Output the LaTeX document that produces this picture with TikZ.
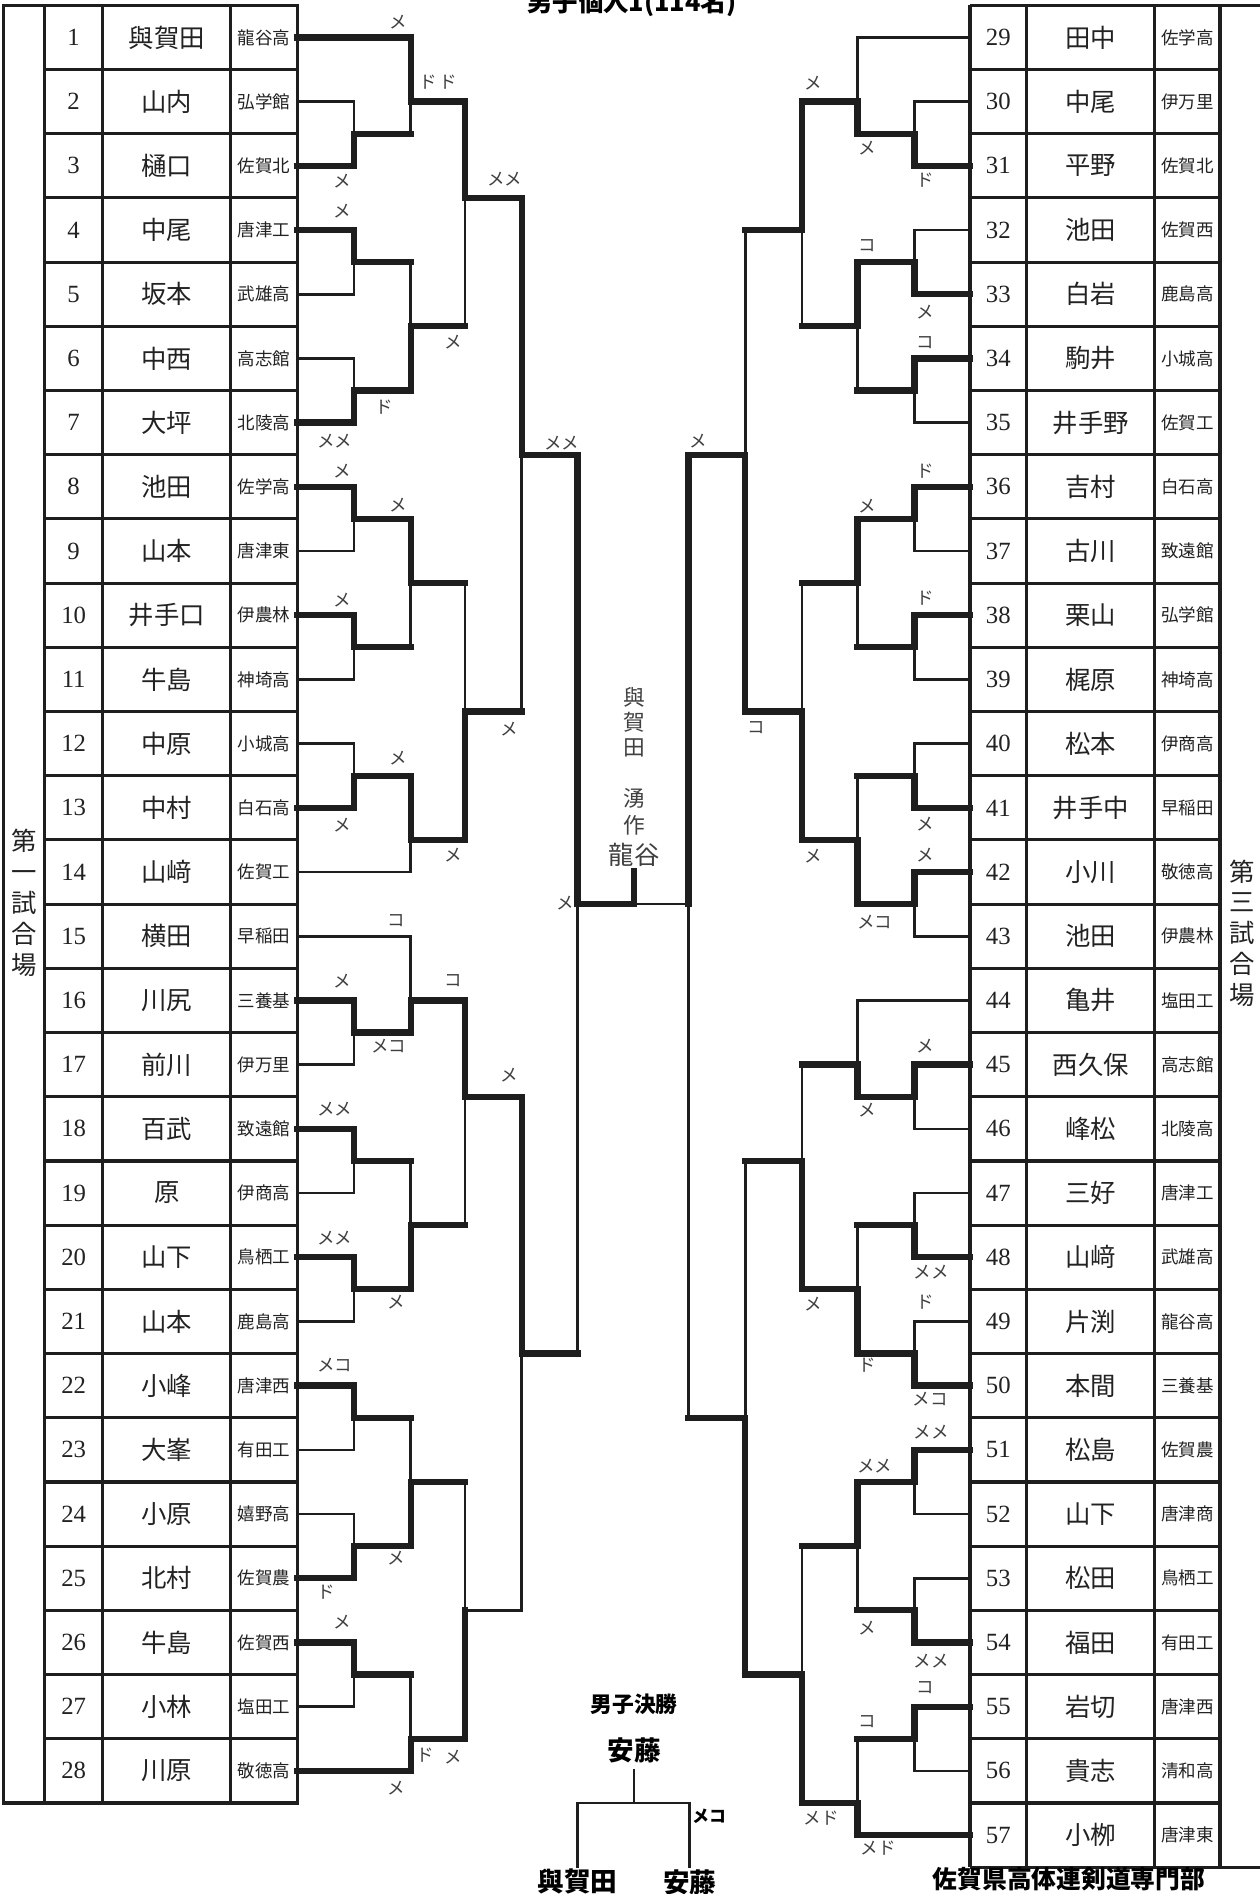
\documentclass[tikz,border=0pt]{standalone}
\usepackage{fontspec}
\newfontfamily\jp{Noto Sans CJK JP}
\newfontfamily\numf{Liberation Serif}
\definecolor{lc}{HTML}{1E1E1E}
\definecolor{tc}{HTML}{222222}
\definecolor{gc}{HTML}{404040}
% match with winner on top input / bottom input
% #1 X of vertical, #2 start x top, #3 y top, #4 style top horiz,
% #5 start x bottom, #6 y bottom, #7 style bottom horiz, #8 y out
\newcommand\Mt[8]{%
  \draw[#4] ({#2},{#3}) -- ({#1},{#3});
  \draw[#7] ({#5},{#6}) -- ({#1},{#6});
  \draw[tn] ({#1},{#8}) -- ({#1},{#6});
  \draw[tk] ({#1},{#3}) -- ({#1},{#8});}
\newcommand\Mb[8]{%
  \draw[#4] ({#2},{#3}) -- ({#1},{#3});
  \draw[#7] ({#5},{#6}) -- ({#1},{#6});
  \draw[tn] ({#1},{#3}) -- ({#1},{#8});
  \draw[tk] ({#1},{#8}) -- ({#1},{#6});}
\newcount\lbcnt
\newcommand\lb[3]{\global\advance\lbcnt by 1
  \node[lab] (lab\the\lbcnt) at ({#1},{#2}) {#3};}
\begin{document}
\begin{tikzpicture}[x=1pt,y=-1pt,
 declare function={rc(\i)=4.4+(\i-0.5)*53.15; rb(\i)=4.4+\i*53.15;},
 tn/.style={line width=2.2pt,line cap=rect,draw=lc},
 tk/.style={line width=5.2pt,line cap=rect,draw=lc},
 tb/.style={line width=2.6pt,draw=lc},
 lab/.style={font=\jp\fontsize{14.5}{14.5}\selectfont,text=gc,inner sep=0pt},
 num/.style={font=\numf\fontsize{20.5}{20.5}\selectfont,text=tc,inner sep=0pt},
 nam/.style={font=\jp\fontsize{21}{21}\selectfont,text=tc,inner sep=0pt},
 sch/.style={font=\jp\fontsize{14.5}{14.5}\selectfont,text=tc,inner sep=0pt},
 vtx/.style={font=\jp\fontsize{21}{25.5}\selectfont,text=tc,align=center,inner sep=0pt},
 bld/.style={font=\jp\bfseries\fontsize{#1}{#1}\selectfont,text=black,inner sep=0pt},
]
\useasboundingbox (0,0) rectangle (1043,1568);
\fill[white] (0,0) rectangle (1043,1568);

% ---------------- left table
\draw[tb] (3,4.4) rectangle (246,{rb(28)});
\foreach \xx in {37,85,191} \draw[tb] (\xx,4.4) -- (\xx,{rb(28)});
\foreach \i in {1,...,27} \draw[tb] (37,{rb(\i)}) -- (246,{rb(\i)});
\foreach \nm/\sc [count=\i] in {與賀田/龍谷高,山内/弘学館,樋口/佐賀北,中尾/唐津工,坂本/武雄高,中西/高志館,大坪/北陵高,池田/佐学高,山本/唐津東,井手口/伊農林,牛島/神埼高,中原/小城高,中村/白石高,山﨑/佐賀工,横田/早稲田,川尻/三養基,前川/伊万里,百武/致遠館,原/伊商高,山下/鳥栖工,山本/鹿島高,小峰/唐津西,大峯/有田工,小原/嬉野高,北村/佐賀農,牛島/佐賀西,小林/塩田工,川原/敬徳高}{
  \node[num] (nl\i) at (61,{rc(\i)}) {\i};
  \node[nam] (ml\i) at (138,{rc(\i)}) {\nm};
  \node[sch] (sl\i) at (218.5,{rc(\i)}) {\sc};
}
\node[vtx] (venue1) at (20,747.5) {第\\一\\試\\合\\場};

% ---------------- right table
\draw[tb] (803,4.4) -- (1045,4.4);
\draw[tb] (803,{rb(29)}) -- (1045,{rb(29)});
\foreach \xx in {803,850,956,1010} \draw[tb] (\xx,4.4) -- (\xx,{rb(29)});
\foreach \i in {1,...,28} \draw[tb] (803,{rb(\i)}) -- (1010,{rb(\i)});
\foreach \nm/\sc [count=\i] in {田中/佐学高,中尾/伊万里,平野/佐賀北,池田/佐賀西,白岩/鹿島高,駒井/小城高,井手野/佐賀工,吉村/白石高,古川/致遠館,栗山/弘学館,梶原/神埼高,松本/伊商高,井手中/早稲田,小川/敬徳高,池田/伊農林,亀井/塩田工,西久保/高志館,峰松/北陵高,三好/唐津工,山﨑/武雄高,片渕/龍谷高,本間/三養基,松島/佐賀農,山下/唐津商,松田/鳥栖工,福田/有田工,岩切/唐津西,貴志/清和高,小栁/唐津東}{
  \pgfmathtruncatemacro\k{\i+28}
  \node[num] (nr\i) at (826.5,{rc(\i)}) {\k};
  \node[nam] (mr\i) at (903,{rc(\i)}) {\nm};
  \node[sch] (sr\i) at (983,{rc(\i)}) {\sc};
}
\node[vtx] (venue3) at (1028,772.5) {第\\三\\試\\合\\場};

% ---------------- left bracket
% block 1-7
\Mb{293}{246}{rc(2)}{tn}{246}{rc(3)}{tk}{rb(2)}
\Mt{340}{246}{rc(1)}{tk}{293}{rb(2)}{tk}{rc(2)}
\Mt{293}{246}{rc(4)}{tk}{246}{rc(5)}{tn}{rb(4)}
\Mb{293}{246}{rc(6)}{tn}{246}{rc(7)}{tk}{rb(6)}
\Mb{340}{293}{rb(4)}{tk}{293}{rb(6)}{tk}{rb(5)}
\Mt{385}{340}{rc(2)}{tk}{340}{rb(5)}{tk}{rb(3)}
% block 8-14
\Mt{293}{246}{rc(8)}{tk}{246}{rc(9)}{tn}{rb(8)}
\Mt{293}{246}{rc(10)}{tk}{246}{rc(11)}{tn}{rb(10)}
\Mt{340}{293}{rb(8)}{tk}{293}{rb(10)}{tk}{rb(9)}
\Mb{293}{246}{rc(12)}{tn}{246}{rc(13)}{tk}{rb(12)}
\Mt{340}{293}{rb(12)}{tk}{246}{rc(14)}{tn}{rb(13)}
\Mb{385}{340}{rb(9)}{tk}{340}{rb(13)}{tk}{rb(11)}
\Mt{432}{385}{rb(3)}{tk}{385}{rb(11)}{tk}{rb(7)}
% block 15-21
\Mt{293}{246}{rc(16)}{tk}{246}{rc(17)}{tn}{rb(16)}
\Mb{340}{246}{rc(15)}{tn}{293}{rb(16)}{tk}{rc(16)}
\Mt{293}{246}{rc(18)}{tk}{246}{rc(19)}{tn}{rb(18)}
\Mt{293}{246}{rc(20)}{tk}{246}{rc(21)}{tn}{rb(20)}
\Mb{340}{293}{rb(18)}{tk}{293}{rb(20)}{tk}{rb(19)}
\Mt{385}{340}{rc(16)}{tk}{340}{rb(19)}{tk}{rb(17)}
% block 22-28
\Mt{293}{246}{rc(22)}{tk}{246}{rc(23)}{tn}{rb(22)}
\Mb{293}{246}{rc(24)}{tn}{246}{rc(25)}{tk}{rb(24)}
\Mb{340}{293}{rb(22)}{tk}{293}{rb(24)}{tk}{rb(23)}
\Mt{293}{246}{rc(26)}{tk}{246}{rc(27)}{tn}{rb(26)}
\Mb{340}{293}{rb(26)}{tk}{246}{rc(28)}{tk}{rb(27)}
\Mb{385}{340}{rb(23)}{tk}{340}{rb(27)}{tk}{rb(25)}
\Mt{432}{385}{rb(17)}{tk}{385}{rb(25)}{tn}{rb(21)}
% semifinal left
\Mt{478}{432}{rb(7)}{tk}{432}{rb(21)}{tk}{rb(14)}

% ---------------- right bracket
% block 29-35
\Mb{757}{803}{rc(2)}{tn}{803}{rc(3)}{tk}{rb(2)}
\Mb{710}{803}{rc(1)}{tn}{757}{rb(2)}{tk}{rc(2)}
\Mb{757}{803}{rc(4)}{tn}{803}{rc(5)}{tk}{rb(4)}
\Mt{757}{803}{rc(6)}{tk}{803}{rc(7)}{tn}{rb(6)}
\Mt{710}{757}{rb(4)}{tk}{757}{rb(6)}{tk}{rb(5)}
\Mt{664}{710}{rc(2)}{tk}{710}{rb(5)}{tk}{rc(4)}
% block 36-43
\Mt{757}{803}{rc(8)}{tk}{803}{rc(9)}{tn}{rb(8)}
\Mt{757}{803}{rc(10)}{tk}{803}{rc(11)}{tn}{rb(10)}
\Mt{710}{757}{rb(8)}{tk}{757}{rb(10)}{tk}{rb(9)}
\Mb{757}{803}{rc(12)}{tn}{803}{rc(13)}{tk}{rb(12)}
\Mt{757}{803}{rc(14)}{tk}{803}{rc(15)}{tn}{rb(14)}
\Mb{710}{757}{rb(12)}{tk}{757}{rb(14)}{tk}{rb(13)}
\Mb{664}{710}{rb(9)}{tk}{710}{rb(13)}{tk}{rb(11)}
\Mb{617}{664}{rc(4)}{tk}{664}{rb(11)}{tk}{rb(7)}
% block 44-50
\Mt{757}{803}{rc(17)}{tk}{803}{rc(18)}{tn}{rb(17)}
\Mb{710}{803}{rc(16)}{tn}{757}{rb(17)}{tk}{rc(17)}
\Mb{757}{803}{rc(19)}{tn}{803}{rc(20)}{tk}{rb(19)}
\Mb{757}{803}{rc(21)}{tn}{803}{rc(22)}{tk}{rb(21)}
\Mb{710}{757}{rb(19)}{tk}{757}{rb(21)}{tk}{rb(20)}
\Mb{664}{710}{rc(17)}{tk}{710}{rb(20)}{tk}{rb(18)}
% block 51-57
\Mt{757}{803}{rc(23)}{tk}{803}{rc(24)}{tn}{rb(23)}
\Mb{757}{803}{rc(25)}{tn}{803}{rc(26)}{tk}{rb(25)}
\Mt{710}{757}{rb(23)}{tk}{757}{rb(25)}{tk}{rb(24)}
\Mt{757}{803}{rc(27)}{tk}{803}{rc(28)}{tn}{rb(27)}
\Mb{710}{757}{rb(27)}{tk}{803}{rc(29)}{tk}{rb(28)}
\Mb{664}{710}{rb(24)}{tk}{710}{rb(28)}{tk}{rb(26)}
\Mb{617}{664}{rb(18)}{tk}{664}{rb(26)}{tk}{rb(22)}
% semifinal right
\Mt{570}{617}{rb(7)}{tk}{617}{rb(22)}{tk}{rb(14)}

% ---------------- final
\coordinate (fm) at (525,{rb(14)});
\coordinate (ft) at (525,721);
\draw[tk] (478,{rb(14)}) -- (fm) -- (ft);
\draw[tn] (fm) -- (570,{rb(14)});
\node[font=\jp\fontsize{18}{21}\selectfont,text=gc,align=center,inner sep=0pt] (wn1) at (525,598) {與\\賀\\田};
\node[font=\jp\fontsize{18}{22.5}\selectfont,text=gc,align=center,inner sep=0pt] (wn2) at (525,672) {湧\\作};
\node[font=\jp\fontsize{21}{21}\selectfont,text=gc,inner sep=0pt] (wn3) at (525,708) {龍谷};

% ---------------- titles
\node[bld=21] (title) at (523,3) {男子個人1(114名)};
\node[bld=18] (fin) at (525,1411) {男子決勝};
\node[bld=22] (champ) at (525,1449) {安藤};
\coordinate (fs) at (525,1466);
\coordinate (fj) at (525,1492.6);
\coordinate (fl) at (478,1492.6);
\coordinate (fr) at (571,1492.6);
\coordinate (fld) at (478,1545);
\coordinate (frd) at (571,1545);
\draw[tn] (fs) -- (fj);
\draw[tn] (fld) -- (fl) -- (fr) -- (frd);
\node[bld=14] (finsc) at (587,1504) {メコ};
\node[bld=22] (fa) at (478,1558) {與賀田};
\node[bld=22] (fb) at (571,1558) {安藤};
\node[bld=20.5] (org) at (885,1556) {佐賀県高体連剣道専門部};

% ---------------- score labels, left
\lb{330}{18}{メ}
\lb{363}{68}{ド\,ド}
\lb{283}{150}{メ}
\lb{283}{175}{メ}
\lb{418}{148}{メメ}
\lb{375}{283}{メ}
\lb{318}{337}{ド}
\lb{277}{365}{メメ}
\lb{465}{367}{メメ}
\lb{283}{390}{メ}
\lb{330}{418}{メ}
\lb{283}{497}{メ}
\lb{422}{604}{メ}
\lb{330}{628}{メ}
\lb{283}{683}{メ}
\lb{375}{708}{メ}
\lb{468}{748}{メ}
\lb{328}{762}{コ}
\lb{283}{812}{メ}
\lb{375}{812}{コ}
\lb{322}{866}{メコ}
\lb{422}{890}{メ}
\lb{277}{918}{メメ}
\lb{277}{1025}{メメ}
\lb{328}{1078}{メ}
\lb{277}{1130}{メコ}
\lb{328}{1290}{メ}
\lb{270}{1318}{ド}
\lb{283}{1343}{メ}
\lb{352}{1453}{ド}
\lb{375}{1455}{メ}
\lb{328}{1480}{メ}
% ---------------- score labels, right
\lb{673}{69}{メ}
\lb{718}{123}{メ}
\lb{766}{149}{ド}
\lb{718}{203}{コ}
\lb{766}{258}{メ}
\lb{766}{284}{コ}
\lb{578}{365}{メ}
\lb{766}{390}{ド}
\lb{718}{419}{メ}
\lb{766}{495}{ド}
\lb{626}{602}{コ}
\lb{766}{682}{メ}
\lb{766}{708}{メ}
\lb{673}{709}{メ}
\lb{724}{763}{メコ}
\lb{766}{866}{メ}
\lb{718}{919}{メ}
\lb{771}{1053}{メメ}
\lb{766}{1078}{ド}
\lb{673}{1080}{メ}
\lb{718}{1130}{ド}
\lb{770}{1158}{メコ}
\lb{771}{1186}{メメ}
\lb{724}{1214}{メメ}
\lb{718}{1348}{メ}
\lb{771}{1375}{メメ}
\lb{766}{1397}{コ}
\lb{718}{1425}{コ}
\lb{680}{1505}{メド}
\lb{727}{1530}{メド}
\end{tikzpicture}
\end{document}
